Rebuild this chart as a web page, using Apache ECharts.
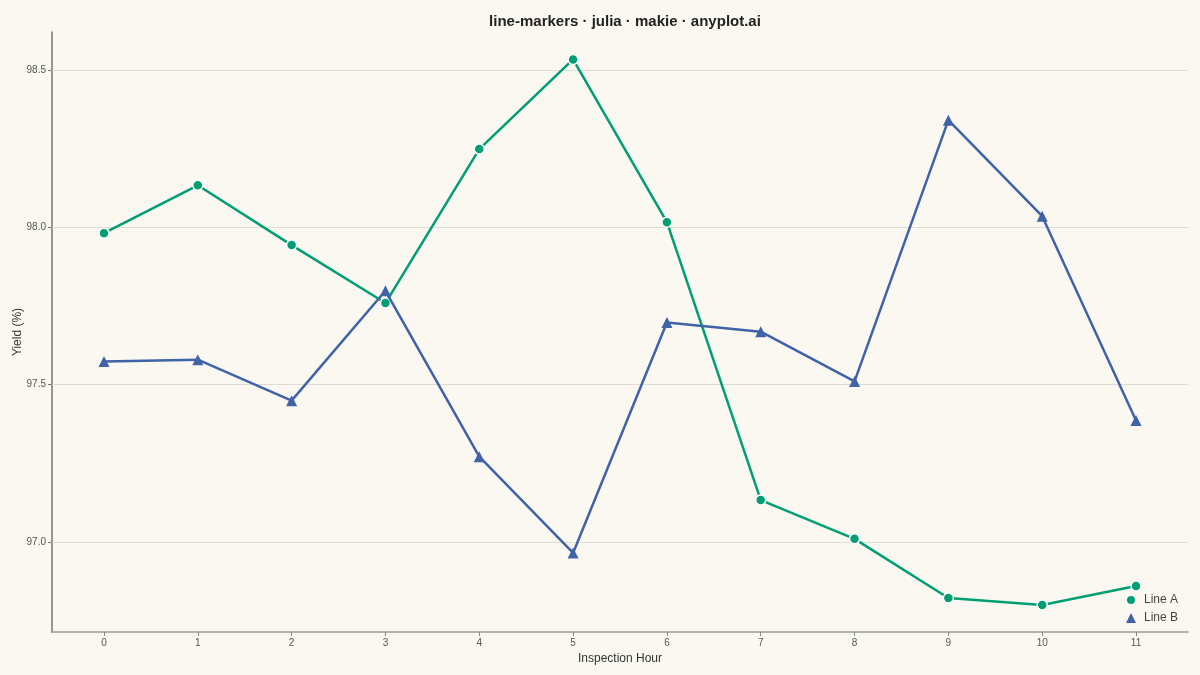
<!DOCTYPE html>
<html>
<head>
<meta charset="utf-8">
<script src="https://cdn.jsdelivr.net/npm/echarts@6/dist/echarts.min.js"></script>
<style>
  html, body { margin: 0; padding: 0; background: #FAF8F1; }
  #chart { width: 1200px; height: 675px; }
</style>
</head>
<body>
<div id="chart"></div>
<script>
// inspection hours and yields
var hours = [0, 1, 2, 3, 4, 5, 6, 7, 8, 9, 10, 11];
var lineA = [97.981, 98.133, 97.943, 97.759, 98.248, 98.533, 98.016, 97.133, 97.010, 96.822, 96.800, 96.860];
var lineB = [97.573, 97.579, 97.449, 97.798, 97.271, 96.965, 97.697, 97.668, 97.510, 98.340, 98.035, 97.386];
var yTicks = [97.0, 97.5, 98.0, 98.5];

var FONT = 'Liberation Sans';
var chart = echarts.init(document.getElementById('chart'));

function pairs(ys) {
  return ys.map(function (v, i) { return [hours[i], v]; });
}

var option = {
  backgroundColor: '#FAF8F1',
  animation: false,
  textStyle: { fontFamily: FONT },
  title: {
    text: 'line-markers · julia · makie · anyplot.ai',
    left: 620,
    textAlign: 'center',
    top: 9,
    textStyle: { fontFamily: FONT, fontSize: 15, fontWeight: 'bold', color: '#222' }
  },
  legend: {
    orient: 'vertical',
    right: 17,
    bottom: 46,
    itemGap: 6,
    itemWidth: 10,
    itemHeight: 10,
    textStyle: { fontFamily: FONT, fontSize: 12, color: '#444', padding: [0, 0, 0, 3] },
    data: [
      { name: 'Line A', icon: 'circle' },
      { name: 'Line B', icon: 'triangle' }
    ]
  },
  grid: { left: 52, right: 12, top: 32, bottom: 43, outerBoundsMode: 'none' },
  xAxis: {
    type: 'value',
    min: -0.554,
    max: 11.554,
    name: 'Inspection Hour',
    nameLocation: 'middle',
    nameGap: 21,
    nameMoveOverlap: false,
    nameTextStyle: { fontFamily: FONT, fontSize: 12, color: '#333' },
    axisLine: { show: true, onZero: false, lineStyle: { color: '#999', width: 1.5 } },
    axisTick: { show: true, length: 4, customValues: hours, lineStyle: { color: '#888' } },
    axisLabel: { customValues: hours, fontSize: 10, color: '#555', margin: 6 },
    splitLine: { show: false }
  },
  yAxis: {
    type: 'value',
    min: 96.714,
    max: 98.62,
    name: 'Yield (%)',
    nameLocation: 'middle',
    nameGap: 28,
    nameMoveOverlap: false,
    nameTextStyle: { fontFamily: FONT, fontSize: 12, color: '#333' },
    axisLine: { show: true, onZero: false, lineStyle: { color: '#777', width: 1.5 } },
    axisTick: { show: true, length: 4, customValues: yTicks, lineStyle: { color: '#777' } },
    axisLabel: {
      customValues: yTicks, fontSize: 10, color: '#555', margin: 6,
      formatter: function (v) { return v.toFixed(1); }
    },
    splitLine: { show: false }
  },
  series: [
    {
      name: 'Line A',
      type: 'line',
      data: pairs(lineA),
      symbol: 'circle',
      symbolSize: 10,
      lineStyle: { color: '#009E73', width: 2.5 },
      itemStyle: { color: '#009E73', borderColor: '#fff', borderWidth: 1.5 },
      z: 3,
      markLine: {
        silent: true,
        symbol: 'none',
        label: { show: false },
        lineStyle: { color: '#DEDCD5', width: 1, type: 'solid' },
        data: yTicks.map(function (v) { return { yAxis: v }; }),
        z: 1
      }
    },
    {
      name: 'Line B',
      type: 'line',
      data: pairs(lineB),
      symbol: 'triangle',
      symbolSize: 11,
      lineStyle: { color: '#4062A6', width: 2.5 },
      itemStyle: { color: '#4062A6', borderWidth: 0 },
      z: 4
    }
  ]
};

chart.setOption(option);
</script>
</body>
</html>
